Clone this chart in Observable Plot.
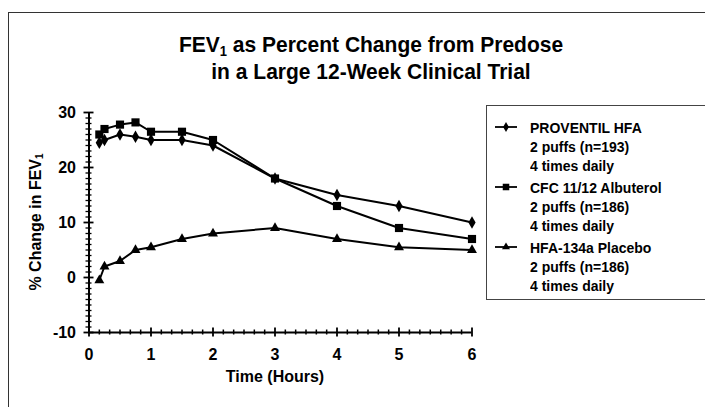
<!DOCTYPE html>
<html><head><meta charset="utf-8">
<script src="https://cdn.jsdelivr.net/npm/d3@7"></script>
<script src="https://cdn.jsdelivr.net/npm/@observablehq/plot@0.6"></script>
<style>
body{margin:0;background:#fff;}
#wrap{position:relative;width:705px;height:407px;overflow:hidden;font-family:"Liberation Sans",Arial,Helvetica,sans-serif;font-weight:bold;color:#000;}
#frame{position:absolute;left:8px;top:12px;width:900px;height:600px;border-top:1.6px solid #333;border-left:1.6px solid #333;box-sizing:border-box;}
#chart{position:absolute;left:0;top:0;}
.title{position:absolute;left:371px;transform:translateX(-50%) scaleY(1.06);white-space:nowrap;font-size:21px;line-height:1;}
.title sub{font-size:13px;vertical-align:-3px;line-height:0;}
#xlabel{position:absolute;left:275px;top:368px;transform:translateX(-50%);font-size:16px;white-space:nowrap;}
#ylabel{position:absolute;left:36px;top:222px;transform:translate(-50%,-50%) rotate(-90deg);font-size:16px;white-space:nowrap;}
#ylabel sub{font-size:10px;vertical-align:-2px;line-height:0;}
#legend{position:absolute;left:486px;top:105px;width:240px;height:195px;border:1.4px solid #444;box-sizing:border-box;}
.lg{position:absolute;left:530px;font-size:14px;line-height:1;white-space:nowrap;transform:scaleY(1.08);transform-origin:left bottom;}
.lsym{position:absolute;left:494px;}
</style></head>
<body>
<div id="wrap">
  <div id="frame"></div>
  <div id="chart"></div>
  <div class="title" style="top:34px">FEV<sub>1</sub> as Percent Change from Predose</div>
  <div class="title" style="top:61px">in a Large 12-Week Clinical Trial</div>
  <div id="xlabel">Time (Hours)</div>
  <div id="ylabel">% Change in FEV<sub>1</sub></div>
  <div id="legend"></div>
</div>
<script>
// ---- data ----
const times = [1/6, 0.25, 0.5, 0.75, 1, 1.5, 2, 3, 4, 5, 6];
const proventil = [24.5, 25, 26, 25.6, 25, 25, 24, 18, 15, 13, 10];
const cfc = [26, 27, 27.8, 28.2, 26.5, 26.5, 25, 18, 13, 9, 7];
const placebo = [-0.5, 2, 3, 5, 5.5, 7, 8, 9, 7, 5.5, 5];
const seriesNames = ["PROVENTIL HFA", "CFC 11/12 Albuterol", "HFA-134a Placebo"];
const seriesLines2 = ["2 puffs (n=193)", "2 puffs (n=186)", "2 puffs (n=186)"];
const seriesLines3 = ["4 times daily", "4 times daily", "4 times daily"];
const xTicks = [0, 1, 2, 3, 4, 5, 6];
const yTicks = [-10, 0, 10, 20, 30];
// minor tick positions (axis divisions as drawn in the original)
const xMinor = [];
for (let h = 0; h < 5; h++) for (let k = 1; k < 6; k++) xMinor.push(h + k / 6);
for (let k = 1; k < 7; k++) xMinor.push(5 + k / 7);
const yMinor = d3.range(-10, 31).filter(v => v % 10 !== 0);

const values = [proventil, cfc, placebo];
const symbols = ["diamond", "square", "triangle"];
const radii = [3.8, 4.6, 3.7];
const rows = [];
seriesNames.forEach((s, i) => times.forEach((t, j) => rows.push({series: s, t, v: values[i][j]})));

const axisY0 = -10, axisX0 = 0;
const marks = [
  Plot.ruleY([axisY0], {x1: 0, x2: 6, stroke: "black", strokeWidth: 2}),
  Plot.ruleX([axisX0], {y1: -10, y2: 30, stroke: "black", strokeWidth: 2}),
  Plot.ruleX(xTicks, {y1: axisY0, y2: axisY0, insetTop: -4.5, insetBottom: -4.5, stroke: "black", strokeWidth: 1.8}),
  Plot.ruleX(xMinor, {y1: axisY0, y2: axisY0, insetTop: -2.5, insetBottom: -2.5, stroke: "black", strokeWidth: 1.5}),
  Plot.ruleY(yTicks, {x1: axisX0, x2: axisX0, insetLeft: -5, insetRight: -5, stroke: "black", strokeWidth: 1.8}),
  Plot.ruleY(yMinor, {x1: axisX0, x2: axisX0, insetLeft: -3, insetRight: -3, stroke: "black", strokeWidth: 1.3}),
  Plot.text(xTicks, {x: d => d, y: axisY0, dy: 22, text: d => String(d), fontSize: 16, fontWeight: "bold", fill: "black", lineAnchor: "middle"}),
  Plot.text(yTicks, {x: axisX0, y: d => d, dx: -13, text: d => String(d), fontSize: 16, fontWeight: "bold", fill: "black", textAnchor: "end", lineAnchor: "middle"}),
  Plot.line(rows, {x: "t", y: "v", z: "series", stroke: "black", strokeWidth: 2})
];
seriesNames.forEach((s, i) => {
  marks.push(Plot.dot(rows.filter(r => r.series === s), {x: "t", y: "v", symbol: symbols[i], r: radii[i], fill: "black", stroke: "none"}));
});

const chart = Plot.plot({
  width: 705, height: 407,
  marginLeft: 0, marginRight: 0, marginTop: 0, marginBottom: 0,
  x: {type: "linear", domain: [0, 5, 6], range: [88.5, 398.5, 471.5], axis: null},
  y: {type: "linear", domain: [-10, 30], range: [332, 112], axis: null},
  style: {fontFamily: '"Liberation Sans", Arial, sans-serif', background: "transparent", overflow: "visible"},
  marks
});
document.getElementById("chart").appendChild(chart);

// legend
const wrap = document.getElementById("wrap");
const d3sym = {diamond: d3.symbolDiamond, square: d3.symbolSquare, triangle: d3.symbolTriangle};
const base = [132, 192, 252];
seriesNames.forEach((s, i) => {
  const lines = [s, seriesLines2[i], seriesLines3[i]];
  lines.forEach((txt, k) => {
    const el = document.createElement("div");
    el.className = "lg";
    el.textContent = txt;
    el.style.top = (base[i] + k * 19 - 11) + "px";
    wrap.appendChild(el);
  });
  const r = radii[i] * 0.8;
  const svg = d3.create("svg").attr("width", 26).attr("height", 14).attr("class", "lsym")
    .style("top", (base[i] - 12) + "px");
  svg.append("line").attr("x1", 1).attr("x2", 23).attr("y1", 7).attr("y2", 7).attr("stroke", "black").attr("stroke-width", 1.8);
  svg.append("path").attr("transform", "translate(12,7)")
    .attr("d", d3.symbol(d3sym[symbols[i]], Math.PI * r * r)()).attr("fill", "black");
  wrap.appendChild(svg.node());
});
</script>
</body></html>
